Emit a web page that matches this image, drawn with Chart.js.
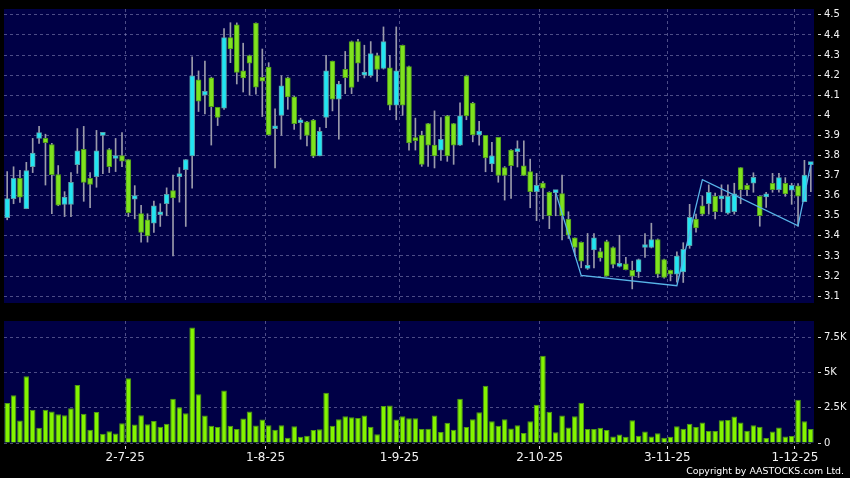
<!DOCTYPE html>
<html>
<head>
<meta charset="utf-8">
<script src="https://cdn.jsdelivr.net/npm/chart.js@4.4.1/dist/chart.umd.min.js"></script>
<style>
  html, body { margin: 0; padding: 0; background: #000; }
  #wrap { position: relative; width: 850px; height: 478px; overflow: hidden; background: #000; }
  #price { position: absolute; left: 0; top: 0; }
  #vol { position: absolute; left: 0; top: 312px; }
  #copy { position: absolute; right: 6px; top: 465px; font: 9.4px 'DejaVu Sans', sans-serif; color: #fff; line-height: 12px; white-space: nowrap; }
</style>
</head>
<body>
<div id="wrap">
  <canvas id="price" width="850" height="312"></canvas>
  <canvas id="vol" width="850" height="166"></canvas>
  <div id="copy">Copyright by AASTOCKS.com Ltd.</div>
</div>
<script>
// daily candles, 4 Jun 2025 .. 3 Dec 2025 (127 sessions)
const open = [3.49,3.585,3.686,3.535,3.744,3.885,3.885,3.855,3.705,3.556,
  3.556,3.754,3.831,3.686,3.695,3.9,3.83,3.785,3.8,3.78,
  3.583,3.511,3.48,3.463,3.505,3.56,3.626,3.695,3.73,3.798,
  4.177,4.1,4.187,4.04,4.035,4.387,4.451,4.221,4.297,4.459,
  4.189,4.24,3.933,4.0,4.187,4.092,3.963,3.967,3.976,3.798,
  3.989,4.27,4.08,4.229,4.367,4.367,4.2,4.197,4.297,4.234,
  4.237,4.051,4.348,4.242,3.876,3.902,3.959,3.852,3.827,3.997,
  3.959,3.852,4.197,4.061,3.902,3.9,3.758,3.89,3.74,3.827,
  3.819,3.749,3.72,3.62,3.663,3.617,3.615,3.611,3.484,3.39,
  3.368,3.238,3.33,3.322,3.371,3.342,3.248,3.261,3.228,3.22,
  3.342,3.342,3.381,3.282,3.228,3.21,3.22,3.351,3.484,3.549,
  3.56,3.597,3.584,3.513,3.521,3.74,3.652,3.662,3.597,3.594,
  3.662,3.63,3.662,3.627,3.649,3.57,3.755];
const high = [3.72,3.744,3.726,3.766,3.885,3.945,3.906,3.86,3.75,3.62,
  3.715,3.934,3.945,3.715,3.925,3.905,3.835,3.885,3.914,3.78,
  3.65,3.552,3.51,3.573,3.56,3.639,3.703,3.74,3.78,4.291,
  4.221,4.27,4.19,4.04,4.432,4.461,4.46,4.359,4.3,4.46,
  4.33,4.262,4.032,4.197,4.19,4.095,3.986,3.97,3.98,3.939,
  4.299,4.27,4.169,4.318,4.37,4.378,4.349,4.367,4.31,4.44,
  4.299,4.44,4.35,4.245,3.986,3.921,3.96,4.022,3.989,4.0,
  3.96,4.062,4.2,4.065,3.97,3.9,3.865,3.89,3.745,3.83,
  3.873,3.873,3.782,3.711,3.67,3.62,3.62,3.703,3.52,3.39,
  3.37,3.412,3.412,3.339,3.379,3.345,3.403,3.293,3.274,3.285,
  3.412,3.463,3.385,3.285,3.23,3.32,3.366,3.557,3.508,3.597,
  3.654,3.613,3.654,3.654,3.662,3.74,3.66,3.714,3.6,3.617,
  3.711,3.711,3.69,3.662,3.66,3.776,3.76];
const low = [3.48,3.56,3.566,3.535,3.715,3.86,3.653,3.51,3.55,3.496,
  3.496,3.711,3.572,3.54,3.642,3.71,3.715,3.72,3.744,3.496,
  3.485,3.369,3.369,3.417,3.447,3.5,3.30,3.568,3.447,3.638,
  4.019,4.007,3.852,3.949,4.03,4.262,4.156,4.116,4.1,4.105,
  3.994,3.9,3.738,3.9,4.03,3.93,3.881,3.848,3.789,3.798,
  3.938,4.022,3.881,4.108,4.108,4.169,4.186,4.19,4.169,4.23,
  4.027,3.978,4.0,3.827,3.827,3.746,3.746,3.738,3.775,3.771,
  3.756,3.85,3.978,3.868,3.852,3.719,3.719,3.667,3.578,3.587,
  3.743,3.7,3.54,3.476,3.484,3.436,3.5,3.38,3.387,3.3,
  3.241,3.233,3.241,3.274,3.2,3.241,3.245,3.23,3.136,3.193,
  3.293,3.34,3.193,3.19,3.176,3.17,3.168,3.338,3.419,3.5,
  3.508,3.484,3.52,3.508,3.508,3.56,3.6,3.617,3.448,3.541,
  3.617,3.617,3.597,3.557,3.448,3.57,3.62];
const close = [3.585,3.686,3.593,3.725,3.812,3.914,3.864,3.705,3.553,3.593,
  3.666,3.823,3.666,3.656,3.823,3.9,3.745,3.79,3.772,3.515,
  3.6,3.417,3.4,3.55,3.505,3.607,3.589,3.697,3.78,4.197,
  4.07,4.119,4.043,3.99,4.387,4.33,4.213,4.186,4.26,4.14,
  4.17,3.902,3.935,4.147,4.092,3.959,3.965,3.9,3.797,3.92,
  4.221,4.08,4.156,4.187,4.139,4.26,4.205,4.307,4.229,4.367,
  4.051,4.221,4.051,3.863,3.874,3.756,3.852,3.798,3.881,3.798,
  3.852,3.997,3.997,3.902,3.921,3.788,3.798,3.701,3.701,3.749,
  3.82,3.701,3.62,3.651,3.638,3.501,3.617,3.501,3.403,3.342,
  3.274,3.24,3.39,3.29,3.2,3.258,3.25,3.232,3.199,3.282,
  3.343,3.381,3.209,3.193,3.209,3.30,3.333,3.492,3.439,3.508,
  3.617,3.521,3.586,3.597,3.609,3.63,3.63,3.691,3.5,3.595,
  3.63,3.69,3.609,3.652,3.597,3.703,3.757];
const volume = [2850,3400,1600,4750,2360,1090,2360,2250,2040,1970,
  2480,4120,2080,950,2200,650,830,670,1410,4610,
  1320,1970,1340,1570,1160,1370,3150,2550,2110,8220,
  3470,1950,1230,1130,3730,1230,1000,1740,2250,1250,
  1670,1270,950,1270,370,1200,440,510,930,970,
  3570,1230,1690,1900,1830,1780,1950,1160,630,2640,
  2660,1670,1900,1760,1760,1000,1020,1950,790,1440,
  950,3150,1130,1690,2180,4070,1550,1230,1690,1040,
  1270,720,1550,2730,6200,2220,760,1950,1110,1900,
  2870,1000,1000,1090,930,460,600,440,1620,510,
  810,460,700,370,440,1200,1020,1370,1130,1460,
  860,860,1620,1640,1880,1460,880,1270,1160,350,
  810,1110,460,490,3080,1550,1000];

// zigzag overlay: turning points (session index, price)
const zzIdx = [86, 90, 105, 109, 124, 126];
const zzPrice = [3.615, 3.203, 3.152, 3.68, 3.45, 3.757];

// date axis
const tickIdx = [19, 41, 62, 84, 104, 124];
const tickText = ['2-7-25', '1-8-25', '1-9-25', '2-10-25', '3-11-25', '1-12-25'];

// volume axis
const volTicks = [0, 2500, 5000, 7500];
const volTickText = ['0', '2.5K', '5K', '7.5K'];

const PRICE_MIN = 3.0659, PRICE_MAX = 4.5292;
const VOL_MAX = 8680;

Chart.defaults.font.family = "'DejaVu Sans', sans-serif";

const NAVY = '#000046';
const gridCol = 'rgba(140,140,190,0.55)';
const upCol = '#22e5f2', upEdge = '#5a9ea8';
const dnCol = '#7fe21e', dnEdge = '#4f9a1c';
const wickCol = '#9a9aaa';
const labelCol = '#f2f2f2';

const days = open.map((_, i) => i);
const isUp = close.map((c, i) => c >= open[i]);
const bodies = open.map((o, i) => [Math.min(o, close[i]), Math.max(o, close[i])]);
const wicks = low.map((l, i) => [l, high[i]]);
const zigzag = days.map(() => null);
zzIdx.forEach((k, j) => { zigzag[k] = zzPrice[j]; });

const dateGrid = ctx => tickIdx.includes(ctx.index) ? gridCol : 'rgba(0,0,0,0)';
const dateTick = ctx => tickIdx.includes(ctx.index) ? '#d8d8d8' : 'rgba(0,0,0,0)';
const dateLabel = (v, i) => {
  const k = tickIdx.indexOf(i);
  return k >= 0 ? tickText[k] : '';
};

// navy plot area
const plotBg = {
  id: 'plotBg',
  beforeDraw(chart) {
    const { ctx, chartArea: a } = chart;
    ctx.save();
    ctx.fillStyle = NAVY;
    ctx.fillRect(a.left, a.top, a.width, a.height);
    ctx.restore();
  }
};

const rightAxis = {
  position: 'right',
  grid: { color: gridCol, tickLength: 7, tickColor: '#d0d0d0', tickBorderDash: [3, 20], tickBorderDashOffset: 19 },
  border: { display: false, dash: [3, 3] },
  afterFit: s => { s.width = 36; }
};

new Chart(document.getElementById('price'), {
  type: 'bar',
  data: {
    labels: days,
    datasets: [
      { type: 'line', data: zigzag, borderColor: '#58b4e8', borderWidth: 1.3, pointRadius: 0, spanGaps: true, tension: 0, order: 0 },
      {
        data: bodies,
        backgroundColor: isUp.map(u => u ? upCol : dnCol),
        borderColor: isUp.map(u => u ? upEdge : dnEdge),
        borderWidth: 1, borderSkipped: false, barThickness: 5, minBarLength: 3, grouped: false, order: 1
      },
      { data: wicks, backgroundColor: wickCol, borderWidth: 0, barThickness: 1, grouped: false, order: 2 }
    ]
  },
  options: {
    responsive: false, animation: false, events: [],
    layout: { padding: { left: 4, top: 5, right: 0, bottom: 0 } },
    plugins: { legend: { display: false }, tooltip: { enabled: false } },
    scales: {
      x: {
        offset: true,
        grid: { offset: true, color: dateGrid, drawTicks: false },
        border: { display: false, dash: [3, 3] },
        ticks: { display: false },
        afterFit: s => { s.height = 6; }
      },
      y: {
        ...rightAxis,
        min: PRICE_MIN, max: PRICE_MAX,
        ticks: {
          stepSize: 0.1, maxTicksLimit: 100, includeBounds: false,
          color: labelCol, font: { size: 10 }, padding: 3,
          callback: v => String(+v.toFixed(1))
        }
      }
    }
  },
  plugins: [plotBg]
});

new Chart(document.getElementById('vol'), {
  type: 'bar',
  data: {
    labels: days,
    datasets: [{
      data: volume, backgroundColor: '#84f400', borderColor: '#4e9a12',
      borderWidth: 1, barPercentage: 0.88, categoryPercentage: 1
    }]
  },
  options: {
    responsive: false, animation: false, events: [],
    layout: { padding: { left: 4, top: 6, right: 0, bottom: 0 } },
    plugins: { legend: { display: false }, tooltip: { enabled: false } },
    scales: {
      x: {
        offset: true,
        grid: { offset: true, color: dateGrid, tickColor: dateTick, tickLength: 6, tickBorderDash: [3, 20], tickBorderDashOffset: 20 },
        border: { display: false, dash: [3, 3] },
        ticks: {
          autoSkip: false, maxRotation: 0, color: labelCol, font: { size: 12 },
          padding: 2, labelOffset: -3.2, callback: dateLabel
        },
        afterFit: s => { s.height = 35; }
      },
      y: {
        ...rightAxis,
        min: 0, max: VOL_MAX,
        afterBuildTicks: s => { s.ticks = volTicks.map(v => ({ value: v })); },
        ticks: {
          color: labelCol, font: { size: 10 }, padding: 3,
          callback: v => volTickText[volTicks.indexOf(v)]
        }
      }
    }
  },
  plugins: [plotBg]
});
</script>
</body>
</html>
